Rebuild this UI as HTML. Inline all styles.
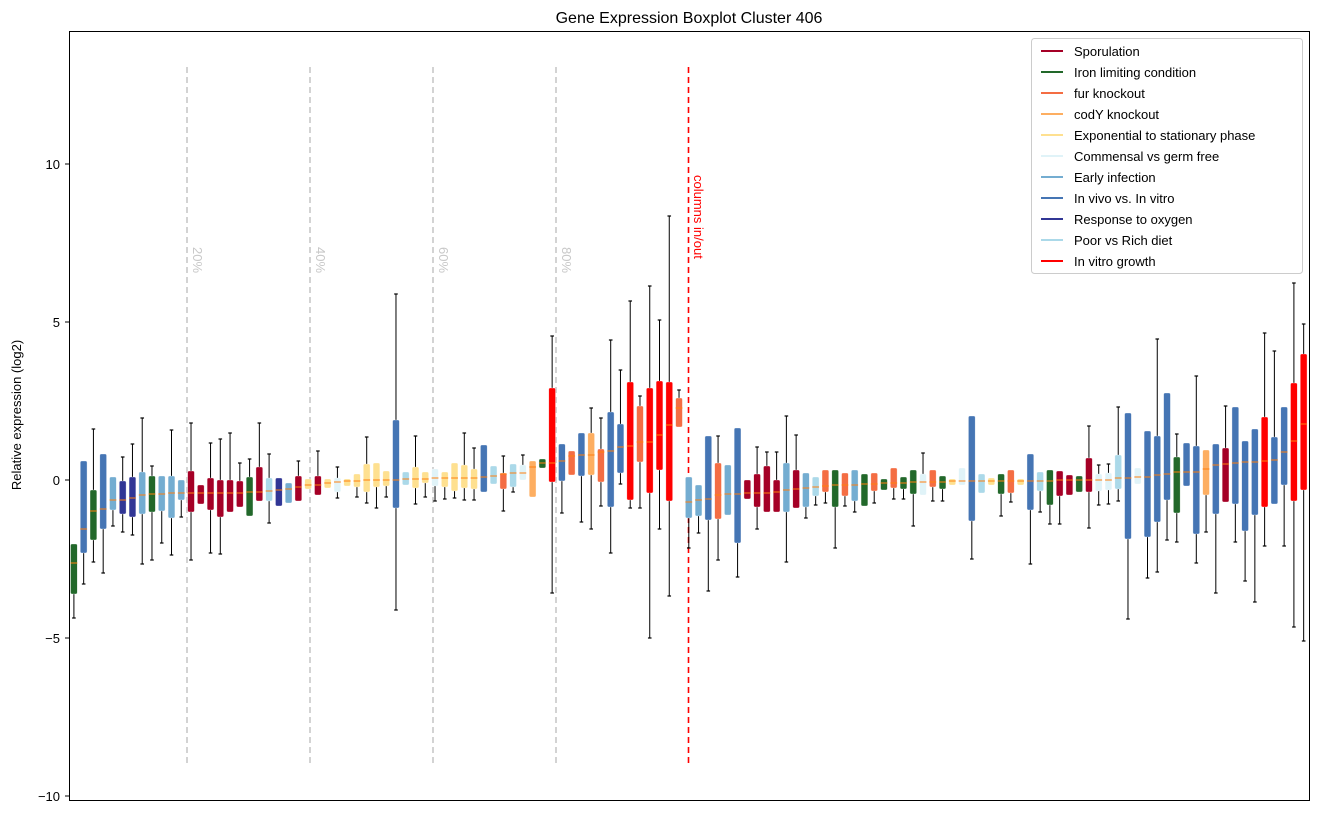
<!DOCTYPE html>
<html><head><meta charset="utf-8"><style>
html,body{margin:0;padding:0;background:#fff;}
svg{display:block;font-family:"Liberation Sans","DejaVu Sans",sans-serif;}
</style></head><body>
<svg id="s" width="1318" height="815" xmlns="http://www.w3.org/2000/svg">
<rect x="0" y="0" width="1318" height="815" fill="#fff"/>
<text x="689" y="23" font-size="16" text-anchor="middle">Gene Expression Boxplot Cluster 406</text>
<text transform="translate(21,415) rotate(-90)" font-size="13" text-anchor="middle">Relative expression (log2)</text>
<g font-size="13" text-anchor="end">
<text x="60" y="169">10</text><text x="60" y="327">5</text><text x="60" y="485">0</text><text x="60" y="643">−5</text><text x="60" y="801">−10</text>
</g>
<g stroke="#000" stroke-width="1">
<line x1="65" y1="164" x2="69" y2="164"/><line x1="65" y1="322" x2="69" y2="322"/><line x1="65" y1="480" x2="69" y2="480"/><line x1="65" y1="638" x2="69" y2="638"/><line x1="65" y1="796" x2="69" y2="796"/>
</g>
<g stroke="#c8c8c8" stroke-width="1.6" stroke-dasharray="6,4">
<line x1="187" y1="67" x2="187" y2="766"/><line x1="310" y1="67" x2="310" y2="766"/><line x1="433" y1="67" x2="433" y2="766"/><line x1="556" y1="67" x2="556" y2="766"/>
</g>
<line x1="688.5" y1="67" x2="688.5" y2="766" stroke="#ff0000" stroke-width="1.6" stroke-dasharray="6,4"/>
<g font-size="13" fill="#c8c8c8">
<text transform="translate(193,247) rotate(90)">20%</text>
<text transform="translate(316,247) rotate(90)">40%</text>
<text transform="translate(439,247) rotate(90)">60%</text>
<text transform="translate(562,247) rotate(90)">80%</text>
</g>
<text transform="translate(694,175) rotate(90)" font-size="13" fill="#ff0000">columns in/out</text>
<g id="boxes"></g>
<rect x="69.5" y="31.5" width="1240" height="769" fill="none" stroke="#000" stroke-width="1"/>
<g>
<rect x="1031.5" y="38.5" width="271" height="235" fill="#fff" stroke="#ccc" rx="3"/>
<g stroke-width="2">
<line x1="1041" y1="51" x2="1063" y2="51" stroke="#a50026"/>
<line x1="1041" y1="72" x2="1063" y2="72" stroke="#22682a"/>
<line x1="1041" y1="93" x2="1063" y2="93" stroke="#f46d43"/>
<line x1="1041" y1="114" x2="1063" y2="114" stroke="#fdae61"/>
<line x1="1041" y1="135" x2="1063" y2="135" stroke="#fee090"/>
<line x1="1041" y1="156" x2="1063" y2="156" stroke="#e0f3f8"/>
<line x1="1041" y1="177" x2="1063" y2="177" stroke="#74add1"/>
<line x1="1041" y1="198" x2="1063" y2="198" stroke="#4575b4"/>
<line x1="1041" y1="219" x2="1063" y2="219" stroke="#313695"/>
<line x1="1041" y1="240" x2="1063" y2="240" stroke="#abd9e9"/>
<line x1="1041" y1="261" x2="1063" y2="261" stroke="#ff0000"/>
</g>
<g font-size="13">
<text x="1074" y="56">Sporulation</text>
<text x="1074" y="77">Iron limiting condition</text>
<text x="1074" y="98">fur knockout</text>
<text x="1074" y="119">codY knockout</text>
<text x="1074" y="140">Exponential to stationary phase</text>
<text x="1074" y="161">Commensal vs germ free</text>
<text x="1074" y="182">Early infection</text>
<text x="1074" y="203">In vivo vs. In vitro</text>
<text x="1074" y="224">Response to oxygen</text>
<text x="1074" y="245">Poor vs Rich diet</text>
<text x="1074" y="266">In vitro growth</text>
</g>
</g>
</svg>
<script>
var C={R:"#a50026",G:"#22682a",F:"#f46d43",C:"#fdae61",Y:"#fee090",W:"#e0f3f8",E:"#74add1",B:"#4575b4",N:"#313695",P:"#abd9e9",V:"#ff0000"};
var D=[
"G,-,544,563,594,618","B,-,461,529,553,584","G,429,490,511,540,562","B,-,454,509,529,573","E,-,477,500,510,526",
"N,457,481,500,514,532","N,444,477,498,517,535","E,418,472,495,514,564","G,466,476,494,512,560","E,-,476,494,511,543",
"E,430,476,493,518,555","E,-,480,493,500,517","R,423,471,493,512,560","R,-,485,493,504,-","R,443,478,493,510,553",
"R,439,480,493,517,554","R,433,480,493,512,-","R,463,481,493,507,-","G,459,477,492,516,-","R,423,467,492,501,-",
"P,454,478,491,501,523","N,-,478,490,506,-","E,-,483,489,503,-","R,461,476,487,501,-","Y,-,479,485,489,-",
"R,451,476,485,495,-","Y,-,479,483,488,-","W,467,478,482,492,498","Y,-,479,481,486,-","Y,-,474,481,487,497",
"Y,437,464,480,492,503","Y,-,463,480,487,508","Y,-,471,480,486,497","B,294,420,480,508,610","P,-,472,479,485,-",
"Y,436,467,479,488,504","Y,-,472,479,483,497","W,-,469,478,486,501","Y,-,472,478,487,499","Y,-,463,478,491,498",
"Y,433,465,478,488,500","Y,448,469,478,489,500","B,-,445,477,492,-","P,-,466,476,484,-","F,456,473,474,489,511",
"P,-,464,473,487,492","W,455,465,473,480,-","C,-,461,467,497,-","G,-,459,463,468,-","V,336,388,463,482,593",
"B,-,444,461,481,513","F,-,451,456,475,-","B,-,433,455,476,522","C,408,433,455,475,529","F,418,449,452,482,506",
"B,340,412,451,507,553","B,370,424,447,473,484","V,301,382,446,500,508","F,396,406,442,462,508","V,286,388,442,493,638",
"V,320,381,435,470,529","V,216,382,425,501,596","F,390,398,408,427,-","E,-,477,502,518,548","E,-,485,500,516,533",
"B,-,436,499,520,591","F,436,463,495,519,560","E,-,465,494,515,-","B,-,428,494,543,577","R,-,480,493,499,-",
"R,447,474,493,507,529","R,452,466,493,512,-","R,452,480,492,512,-","E,416,463,490,512,562","R,435,470,489,508,-",
"E,-,473,488,507,518","P,-,477,487,496,505","F,-,470,486,492,503","G,-,470,485,507,548","F,-,473,485,496,506",
"E,-,470,485,501,512","G,-,474,484,506,-","F,-,473,484,491,503","G,-,479,483,490,-","F,-,468,483,488,499",
"G,-,477,483,489,499","G,-,470,482,494,526","W,453,474,482,495,-","F,-,470,482,487,501","G,-,476,482,489,501",
"Y,-,479,481,485,-","W,-,468,481,485,-","B,-,416,481,521,559","P,-,474,481,493,-","Y,-,478,481,485,-",
"G,-,474,481,494,516","F,-,470,481,493,502","Y,-,479,481,485,-","B,-,454,481,510,564","P,-,472,481,491,512",
"G,-,470,481,505,524","R,-,471,480,496,524","R,-,475,480,495,-","G,-,476,480,492,-","R,426,458,480,492,528",
"W,465,474,480,491,505","W,464,473,480,490,504","P,407,455,478,489,501","B,-,413,478,539,619","W,-,468,477,484,-",
"B,-,431,477,537,578","B,339,436,475,522,572","B,-,393,474,500,540","G,434,457,472,513,542","B,-,443,472,486,-",
"B,376,446,472,534,563","C,-,450,469,495,532","B,-,444,465,514,593","R,406,448,464,502,-","B,-,407,463,504,542",
"B,-,441,462,531,581","B,-,429,462,515,602","V,333,417,461,507,546","B,351,437,460,504,-","B,-,407,452,485,546",
"V,283,383,441,501,627","V,324,354,424,490,641"];
var s="";
D.forEach(function(r,i){
 var a=r.split(","),c=C[a[0]],x=73.9+i*9.76;
 var top=+a[2],med=+a[3],bot=+a[4];
 var wt=a[1]=="-"?top:+a[1],wb=a[5]=="-"?bot:+a[5];
 if(wt<top){s+='<line x1="'+x+'" y1="'+wt+'" x2="'+x+'" y2="'+top+'" stroke="#000" stroke-width="1"/>';
  s+='<line x1="'+(x-1.8)+'" y1="'+wt+'" x2="'+(x+1.8)+'" y2="'+wt+'" stroke="#000" stroke-width="1.2"/>';}
 if(wb>bot){s+='<line x1="'+x+'" y1="'+bot+'" x2="'+x+'" y2="'+wb+'" stroke="#000" stroke-width="1"/>';
  s+='<line x1="'+(x-1.8)+'" y1="'+wb+'" x2="'+(x+1.8)+'" y2="'+wb+'" stroke="#000" stroke-width="1.2"/>';}
 var h=Math.max(bot-top,3);
 s+='<rect x="'+(x-3.4)+'" y="'+top+'" width="6.8" height="'+h+'" rx="1.5" fill="'+c+'" stroke="#fff" stroke-opacity="0.6" stroke-width="0.6"/>';
 s+='<line x1="'+(x-3.4)+'" y1="'+med+'" x2="'+(x+3.4)+'" y2="'+med+'" stroke="#ff7f0e" stroke-width="1"/>';
});
document.getElementById("boxes").innerHTML=s;
</script>
</body></html>
